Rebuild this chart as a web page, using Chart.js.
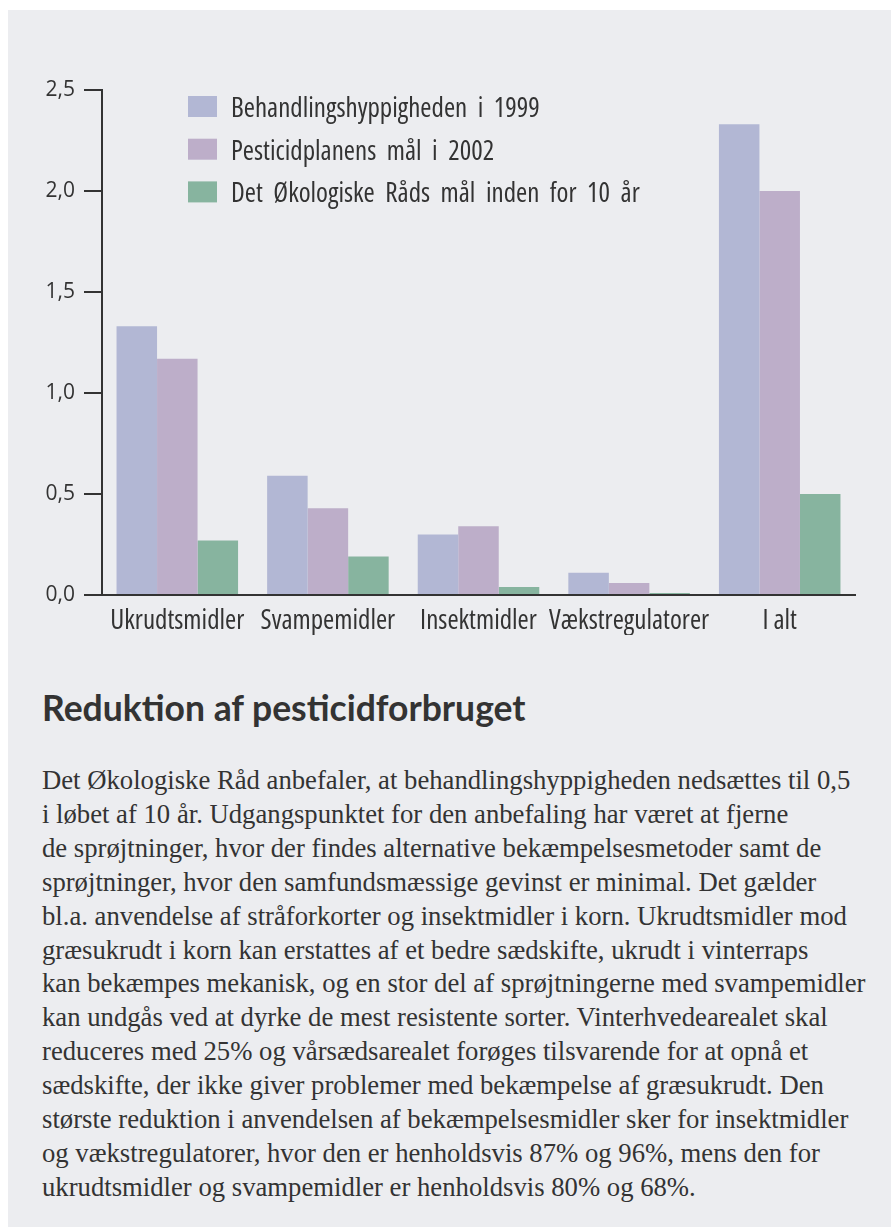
<!DOCTYPE html>
<html>
<head>
<meta charset="utf-8">
<script src="https://cdn.jsdelivr.net/npm/chart.js@4/dist/chart.umd.min.js"></script>
<style>
  html, body { margin: 0; padding: 0; background: #ffffff; width: 891px; height: 1227px; overflow: hidden; }
  #panel { position: absolute; left: 8px; top: 10px; width: 883px; height: 1217px; background: #ECEDF0; }
  #chartWrap { position: absolute; left: 0; top: 0; width: 891px; height: 660px; }
  #title { position: absolute; left: 42px; top: 690px; margin: 0; font-family: Lato, "Open Sans", sans-serif; font-weight: bold; font-size: 35.5px; line-height: 36px; color: #333333; white-space: nowrap; }
  #body { position: absolute; left: 42px; top: 764px; font-family: "Liberation Serif", "DejaVu Serif", serif; font-size: 26.7px; line-height: 33.9px; color: #333333; white-space: nowrap; }
</style>
</head>
<body>
<div id="panel"></div>
<div id="chartWrap"><canvas id="c" width="891" height="660"></canvas></div>
<h2 id="title">Reduktion af pesticidforbruget</h2>
<div id="body">
Det Økologiske Råd anbefaler, at behandlingshyppigheden nedsættes til 0,5<br>
i løbet af 10 år. Udgangspunktet for den anbefaling har været at fjerne<br>
de sprøjtninger, hvor der findes alternative bekæmpelsesmetoder samt de<br>
sprøjtninger, hvor den samfundsmæssige gevinst er minimal. Det gælder<br>
bl.a. anvendelse af stråforkorter og insektmidler i korn. Ukrudtsmidler mod<br>
græsukrudt i korn kan erstattes af et bedre sædskifte, ukrudt i vinterraps<br>
kan bekæmpes mekanisk, og en stor del af sprøjtningerne med svampemidler<br>
kan undgås ved at dyrke de mest resistente sorter. Vinterhvedearealet skal<br>
reduceres med 25% og vårsædsarealet forøges tilsvarende for at opnå et<br>
sædskifte, der ikke giver problemer med bekæmpelse af græsukrudt. Den<br>
største reduktion i anvendelsen af bekæmpelsesmidler sker for insektmidler<br>
og vækstregulatorer, hvor den er henholdsvis 87% og 96%, mens den for<br>
ukrudtsmidler og svampemidler er henholdsvis 80% og 68%.
</div>
<script>
const categories = ["Ukrudtsmidler", "Svampemidler", "Insektmidler", "Vækstregulatorer", "I alt"];
const seriesNames = ["Behandlingshyppigheden i 1999", "Pesticidplanens mål i 2002", "Det Økologiske Råds mål inden for 10 år"];
const values1999 = [1.33, 0.59, 0.30, 0.11, 2.33];
const values2002 = [1.17, 0.43, 0.34, 0.06, 2.00];
const valuesGoal = [0.27, 0.19, 0.04, 0.01, 0.50];
const yTickLabels = ["0,0", "0,5", "1,0", "1,5", "2,0", "2,5"];
const colors = ["#B2B7D4", "#BDAEC9", "#87B49F"];

const FONT = '"Open Sans", "DejaVu Sans Condensed", sans-serif';
const INK = '#333333';

const innerLegend = {
  id: 'innerLegend',
  afterDraw(chart) {
    const ctx = chart.ctx;
    ctx.save();
    ctx.font = 'condensed 27px ' + FONT;
    if ('wordSpacing' in ctx) ctx.wordSpacing = '5.5px';
    ctx.textBaseline = 'alphabetic';
    ctx.textAlign = 'left';
    chart.data.datasets.forEach((ds, i) => {
      const y = 96 + i * 42.7;
      ctx.fillStyle = ds.backgroundColor;
      ctx.fillRect(188, y, 29, 21);
      ctx.fillStyle = INK;
      ctx.fillText(ds.label, 231, y + 21);
    });
    ctx.restore();
  }
};

new Chart(document.getElementById('c'), {
  type: 'bar',
  data: {
    labels: categories,
    datasets: [
      { label: seriesNames[0], data: values1999, backgroundColor: colors[0] },
      { label: seriesNames[1], data: values2002, backgroundColor: colors[1] },
      { label: seriesNames[2], data: valuesGoal, backgroundColor: colors[2] }
    ]
  },
  options: {
    responsive: false,
    devicePixelRatio: 1,
    animation: false,
    datasets: { bar: { categoryPercentage: 0.807, barPercentage: 1.0, borderWidth: 0 } },
    layout: { padding: { left: 32, top: 90, right: 36, bottom: 25 } },
    plugins: { legend: { display: false }, tooltip: { enabled: false } },
    scales: {
      x: {
        grid: { display: false, drawTicks: false },
        border: { display: true, color: INK, width: 2 },
        ticks: { color: INK, font: { family: FONT, size: 27, weight: 'condensed' }, padding: 10, maxRotation: 0, autoSkip: false },
        afterFit(s) { s.height = 40; }
      },
      y: {
        min: 0, max: 2.5,
        grid: { drawOnChartArea: false, drawTicks: true, tickLength: 18, color: INK, lineWidth: 2 },
        border: { display: true, color: INK, width: 2 },
        ticks: {
          stepSize: 0.5, padding: 9, color: INK, font: { family: FONT, size: 21, weight: '500' },
          callback: (v, i) => yTickLabels[i]
        },
        afterFit(s) { s.width = 70; }
      }
    }
  },
  plugins: [innerLegend]
});
</script>
</body>
</html>
